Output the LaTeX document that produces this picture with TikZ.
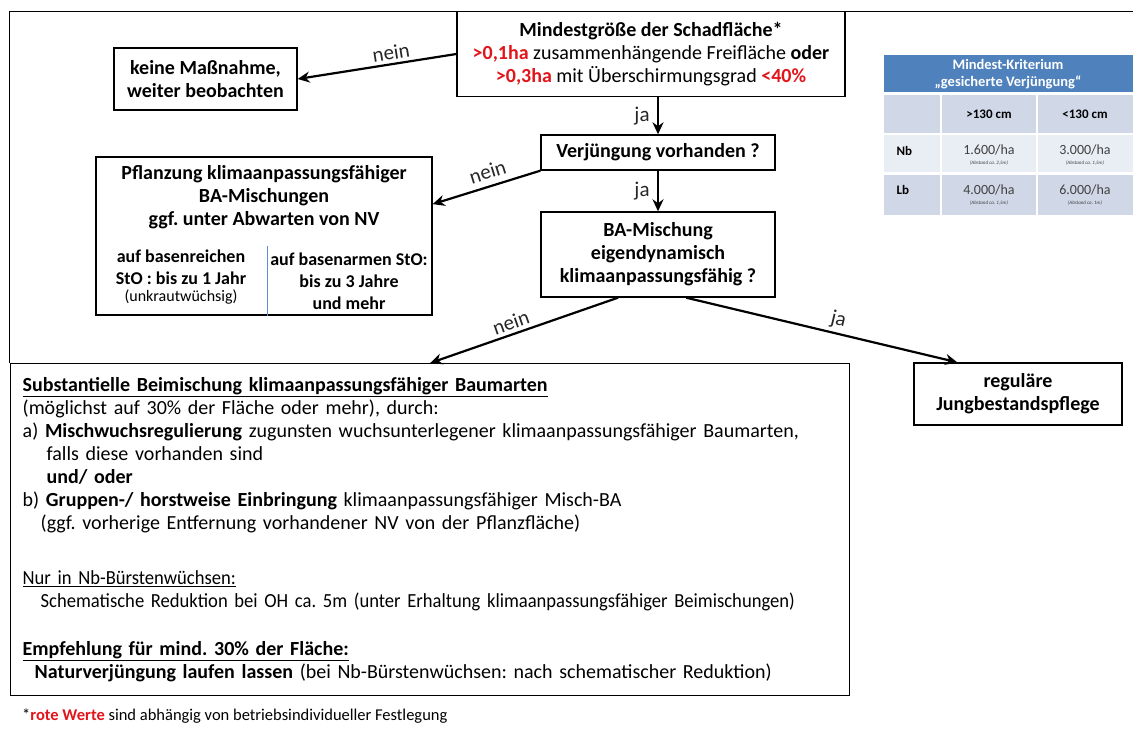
\documentclass[tikz,border=0pt]{standalone}
\usepackage{fontspec}
\setmainfont{Carlito}
\usetikzlibrary{arrows.meta, positioning, calc}
\definecolor{rotwert}{HTML}{E2151B}
\definecolor{kopfblau}{HTML}{4F81BD}
\definecolor{zelleA}{HTML}{D0D8E8}
\definecolor{zelleB}{HTML}{E9EDF4}
\definecolor{trennblau}{HTML}{5B8FD0}
\definecolor{zellgrau}{HTML}{404040}
\newcommand{\rotwert}[1]{\textcolor{rotwert}{\textbf{#1}}}
\tikzset{
  kasten/.style={draw, line width=1.4pt, align=center, inner sep=0pt,
    font=\fontsize{20}{23}\selectfont\bfseries},
  spalte/.style={align=center, inner sep=0pt, font=\fontsize{18}{22}\selectfont\bfseries},
  pfeil/.style={->, line width=2.2pt},
  marke/.style={font=\fontsize{21}{24}\selectfont, text=black!85},
  zelle/.style={font=\fontsize{14}{16}\selectfont, text=zellgrau},
  zellkopf/.style={font=\fontsize{13}{15}\selectfont\bfseries, text=black},
  klein/.style={font=\fontsize{5}{6}\selectfont\itshape, text=zellgrau},
}

\begin{document}
\frenchspacing
\begin{tikzpicture}[x=1pt, y=-1pt, >={Stealth[length=12pt,width=11pt]}]
\useasboundingbox (0,0) rectangle (1133,729);
% Rahmen
\draw[line width=1pt] (9,363) -- (9,11) -- (1133,11);

% Kaesten
\node[kasten, minimum width=388, minimum height=85] (mindest) at (651,54)
  {Mindestgröße der Schadfläche*\\
   \rotwert{>0,1ha} {\mdseries zusammenhängende Freifläche} oder\\
   \rotwert{>0,3ha} {\mdseries mit Überschirmungsgrad} \rotwert{<40\%}};
\node[kasten, minimum width=183, minimum height=62] (keine) at (205.5,79)
  {keine Maßnahme,\\weiter beobachten};
\node[kasten, minimum width=234, minimum height=35] (verj) at (658,152.5)
  {Verjüngung vorhanden ?};
\node[kasten, minimum width=234, minimum height=85] (mischung) at (658,254.5)
  {BA-Mischung\\eigendynamisch\\klimaanpassungsfähig ?};
\node[kasten, minimum width=208, minimum height=62] (regulaer) at (1018,394)
  {reguläre\\Jungbestandspflege};

% Pflanzung mit zwei Spalten
\node[kasten, minimum width=336, minimum height=158] (pflanz) at (264,236) {};
\node[kasten, draw=none, anchor=north] (pflanztitel) at ($(pflanz.north)+(0,8)$)
  {Pflanzung klimaanpassungsfähiger\\BA-Mischungen\\ggf. unter Abwarten von NV};
\node[spalte] (basenreich) at (181,277)
  {auf basenreichen\\StO : bis zu 1 Jahr\\[-5pt]{\mdseries\fontsize{16}{18}\selectfont(unkrautwüchsig)}};
\node[spalte] (basenarm) at (349,281)
  {auf basenarmen StO:\\bis zu 3 Jahre\\und mehr};
\draw[trennblau, line width=1pt] ($(pflanz.south)+(3,0)$) -- ++(0,-70);

% Massnahmen
\node[draw, line width=1.4pt, anchor=north west, minimum width=839, minimum height=332,
  text width=815, inner xsep=12, inner ysep=8, align=left,
  font=\fontsize{20}{23}\selectfont] (beimisch) at (10,363)
  {\underline{\textbf{Substantielle Beimischung klimaanpassungsfähiger Baumarten}}\\
   (möglichst auf 30\% der Fläche oder mehr), durch:\\
   a) \textbf{Mischwuchsregulierung} zugunsten wuchsunterlegener klimaanpassungsfähiger Baumarten,\\
   \hspace*{24pt}falls diese vorhanden sind\\
   \hspace*{24pt}\textbf{und/ oder}\\
   b) \textbf{Gruppen-/ horstweise Einbringung} klimaanpassungsfähiger Misch-BA\\
   \hspace*{18pt}(ggf. vorherige Entfernung vorhandener NV von der Pflanzfläche)\\[32pt]
   {\addfontfeatures{FakeStretch=0.93}\underline{Nur in Nb-Bürstenwüchsen:}\\
   \hspace*{18pt}Schematische Reduktion bei OH ca. 5m (unter Erhaltung klimaanpassungsfähiger Beimischungen)}\\[25pt]
   \underline{\textbf{Empfehlung für mind. 30\% der Fläche:}}\\
   \hspace*{12pt}\textbf{Naturverjüngung laufen lassen} (bei Nb-Bürstenwüchsen: nach schematischer Reduktion)};

% Pfeile
\coordinate (pflanzein) at ($(pflanz.north east)!0.3!(pflanz.south east)$);
\coordinate (neinstart) at ($(mischung.south west)!0.33!(mischung.south east)$);
\coordinate (jastart) at ($(mischung.south west)!0.62!(mischung.south east)$);
\coordinate (regein) at ($(regulaer.north west)!0.21!(regulaer.north east)$);
\draw[pfeil] (mindest.west) -- node[marke, sloped, above, pos=0.4] (nein1) {nein} (keine.east);
\draw[pfeil] (verj.north |- mindest.south) -- node[marke, left=4pt] (ja1) {ja} (verj.north);
\draw[pfeil] (verj.south west) -- node[marke, sloped, above=3pt, pos=0.45] (nein2) {nein} (pflanzein);
\draw[pfeil] (verj.south) -- node[marke, left=4pt] (ja2) {ja} (mischung.north);
\draw[pfeil] (neinstart) -- node[marke, sloped, above, pos=0.55] (nein3) {nein} (beimisch.north);
\draw[pfeil] (jastart) -- node[marke, sloped, above, pos=0.55] (ja3) {ja} (regein);

% Tabelle Mindest-Kriterium
\fill[kopfblau] (884,55) rectangle (1133,92);
\foreach \xa/\xb in {884/940, 942/1036, 1038/1133}
  \foreach \ya/\yb/\farbe in {95/133/zelleA, 135/172/zelleB, 175/215/zelleA}
    \fill[\farbe] (\xa,\ya) rectangle (\xb,\yb);
\node[font=\fontsize{14.5}{17}\selectfont\bfseries, text=white, align=center, inner sep=0pt] (kriterium) at (1008,74)
  {Mindest-Kriterium\\„gesicherte Verjüngung“};
\node[zellkopf] (hoch) at (989,114) {>130 cm};
\node[zellkopf] (niedrig) at (1085,114) {<130 cm};
\node[zellkopf, anchor=west] (nb) at (893,151) {Nb};
\node[zellkopf, anchor=west] (lb) at (893,190) {Lb};
\node[zelle] (nbhoch) at (989,150) {1.600/ha};
\node[klein] (nbhochab) at (989,163) {(Abstand ca. 2,5m)};
\node[zelle] (nbniedrig) at (1085,150) {3.000/ha};
\node[klein] (nbniedrigab) at (1085,163) {(Abstand ca. 1,5m)};
\node[zelle] (lbhoch) at (989,190) {4.000/ha};
\node[klein] (lbhochab) at (989,203) {(Abstand ca. 1,5m)};
\node[zelle] (lbniedrig) at (1085,190) {6.000/ha};
\node[klein] (lbniedrigab) at (1085,203) {(Abstand ca. 1m)};

% Fussnote
\node[anchor=west, font=\fontsize{16.5}{18}\selectfont, inner sep=0pt] (fussnote) at (22,716)
  {*\rotwert{rote Werte} sind abhängig von betriebsindividueller Festlegung};
\end{tikzpicture}
\end{document}
